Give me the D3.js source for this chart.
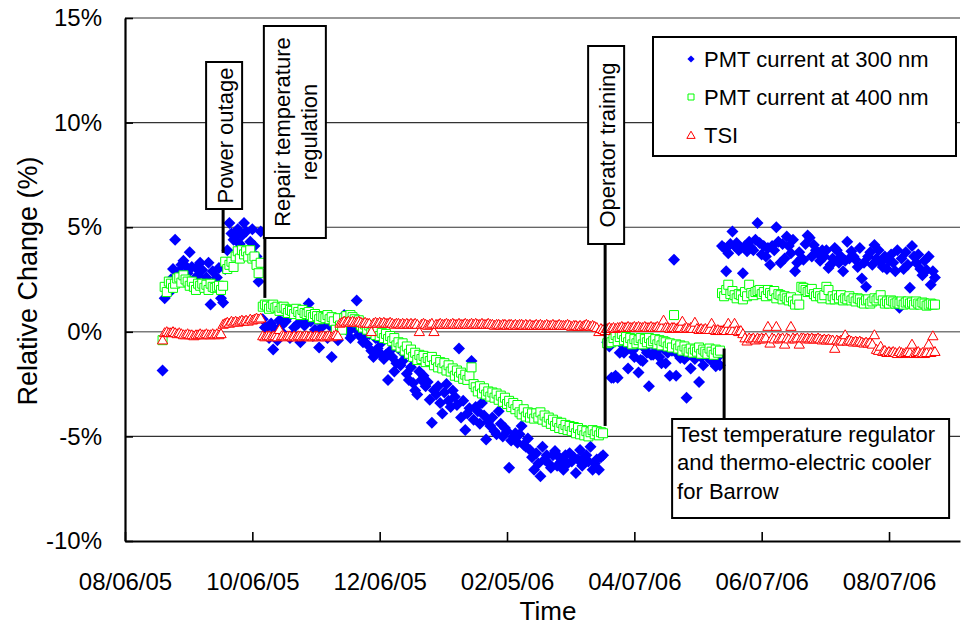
<!DOCTYPE html>
<html><head><meta charset="utf-8">
<script src="https://cdn.jsdelivr.net/npm/d3@7/dist/d3.min.js"></script>
<style>
body{margin:0;background:#fff}
svg{display:block}
text{font-family:"Liberation Sans",Arial,sans-serif;fill:#000}
</style>
</head><body>
<svg id="chart" width="961" height="629"></svg>
<script>
// ---------------- data ----------------
// one reading per day, starting on firstDay (null = no reading)
const firstDay = "08/24/05";

const pmt300 = [
 -1.85, 1.6, 2.2, 1.85, 2.5, 3.0, 4.4, 2.6, 2.9, 3.2,
 3.4, 3.15, 2.8, 3.8, 3.1, 2.5, 3.05, 2.7, 3.3, 2.95,
 2.2, 2.6, 3.3, 1.3, 2.9, 2.4, 2.6, 3.05, 1.6, 1.4,
 3.0, 3.9, 5.2, 4.7, 4.4, 4.55, 4.9, 4.2, 4.6, 5.2,
 4.8, 3.8, 4.3, 4.9, 4.1, 3.6, 2.4, 4.8,
 0.6, 0.2, 0.2, -0.3, 0.4, -0.85, 0.1, -0.4, 0.55, 0.3,
 -0.1, 0.5, 0.7, -0.3, -0.2, 0.2, 0.9, 0.4, -0.5, 0.6,
 0.3, 0.8, 1.35, 0.5, -0.2, 0.1, 0.6, -0.75, 0.2, 0.7,
 0.4, -0.3, 0.3, -1.2, 0.5, 0.1, -0.4, 0.6, 0.2, 0.8,
 0.5, 0.0, -0.3, 0.4, 0.2, 1.5, -0.15, 0.3, -0.5, -0.2,
 -0.6, -0.1, -0.9, -1.2, -0.3, -0.8, -1.0, -0.5, -1.3, -1.1,
 -2.3, -0.9, -1.2, -1.9, -1.5, -0.8, -1.6, -1.4, -1.1, -2.0,
 -2.3, -1.7, -2.45, -2.8, -3.0, -1.9, -2.3, -2.1, -2.6, -2.4,
 -3.25, -4.35, -2.8, -3.0, -2.6, -3.4, -3.9, -2.9, -2.5, -3.3,
 -3.6, -2.8, -3.1, -3.5, -0.8, -4.1, -3.3, -4.7, -3.9, -3.65,
 -1.4, -4.2, -3.6, -3.8, -4.4, -3.4, -4.0, -5.15, -4.3, -4.5,
 -4.1, -4.75, -4.9, -3.8, -4.4, -5.0, -4.6, -4.75, -6.5, -5.2,
 -5.0, -4.85, -5.3, -4.9, -4.5, -5.4, -5.5, -5.1, -5.65, -6.0,
 -6.6, -5.8, -6.3, -6.9, -5.5, -6.1, -5.9, -6.3, -6.5, -5.9,
 -5.7, -6.4, -6.0, -6.2, -6.6, -5.9, -6.3, -5.8, -6.2, -6.0,
 -6.75, -6.1, -5.65, -6.4, -6.0, -5.9, -6.2, -5.5, -6.6, -6.3,
 -6.1, -6.6, -6.0, -5.9,
 null,
 -0.5, -0.7, -2.2, -2.2, -2.1, -2.2, -1.0, -0.6, -1.0, -0.8,
 -1.75, -0.6, -0.9, -1.2, -0.7, -1.95, -1.35, -1.4, -0.8, -1.0,
 -2.6, -1.1, -1.1, -0.7, -0.9, -1.2, -1.5, -0.8, -1.5, -1.0,
 -2.1, -0.9, 3.45, -2.1, -1.1, -1.25, -0.9, -1.3, -3.15, -1.1,
 -1.75, -1.0, -1.3, -0.9, -2.4, -1.2, -1.6, -1.0, -1.2, -0.9,
 -1.4, -1.0, -1.65, -1.2, -1.6,
 4.1, 4.0, 2.9, 3.75, 4.2, 4.8, 4.1, 4.25, 3.9, 4.0,
 2.8, 4.1, 3.85, 4.3, 4.0, 3.9, 4.4, 5.2, 4.25, 3.7,
 4.1, 3.6, 4.0, 3.2, 4.1, 3.9, 5.0, 4.3, 3.3, 4.2,
 3.5, 4.55, 4.1, 3.75, 4.4, 2.9, 3.3, 3.8, 3.5, 3.45,
 4.2, 4.6, 4.5, 3.6, 4.15, 3.9, 3.75, 3.4, 3.9, 3.6,
 3.9, 3.05, 3.2, 3.5, 4.0, 3.9, 3.3, 3.6, 2.9, 3.4,
 4.3, 3.5, 3.85, 3.6, 3.45, 3.1, 4.0, 2.55, 3.3, 2.15,
 3.6, 3.8, 3.2, 4.15, 3.5, 3.9, 3.3, 3.1, 3.6, 3.0,
 3.4, 3.7, 3.3, 2.9, 3.9, 1.15, 3.5, 3.0, 3.8, 3.2,
 2.1, 4.1, 3.6, 3.3, 3.7, 3.0, 2.7, 3.4, 2.95, 3.6,
 2.25, 2.9, 2.6
];

const pmt400 = [
 -0.4, 2.15, 1.9, 2.4, 2.3, 2.1, 2.3, 2.55, 2.6, 2.35,
 2.7, 2.5, 2.4, 2.2, 2.4, 2.15, 2.0, 2.3, 2.2, 2.3,
 2.1, 2.25, 2.0, 2.3, 2.15, 2.1, 2.15, 2.2, 2.0, 2.2,
 3.35, 3.0, 3.2, 3.35, 3.1, 3.6, 3.85, 3.5, 3.9, 3.7,
 3.85, 3.6, 3.9, 3.5, 3.6, 3.2, 2.8, 3.3,
 1.2, 1.3, 1.25, 1.1, 1.2, 1.3, 1.15, 1.2, 1.0, 1.15,
 1.2, 1.1, 0.9, 1.05, 1.0, 0.85, 1.1, 0.95, 0.8, 1.05,
 0.9, 0.85, 0.95, 0.8, 0.7, 0.85, 0.75, 0.6, 0.75, 0.7,
 0.65, 0.8, 0.6, 0.7, 0.5, 0.1, 0.65, 0.3, 0.1, 0.65,
 0.75, 0.5, 0.8, 0.7, 0.6, 0.45, 0.55, 0.3, 0.2, 0.35,
 0.1, 0.3, -0.05, 0.2, -0.15, 0.05, -0.2, -0.05, -0.3, -0.1,
 -0.35, -0.2, -0.45, -0.3, -0.65, -0.5, -0.75, -0.55, -0.9, -0.7,
 -1.05, -0.85, -1.2, -1.0, -1.35, -1.1, -1.3, -1.15, -1.45, -1.25,
 -1.4, -1.2, -1.6, -1.35, -1.7, -1.45, -1.75, -1.5, -1.85, -1.6,
 -1.9, -1.75, -2.1, -1.85, -2.15, -1.95, -2.25, -2.05, -2.3, -2.1,
 -1.7, -2.5, -2.65, -2.85, -2.6, -2.95, -2.7, -3.0, -2.85, -3.1,
 -2.9, -3.15, -2.95, -3.25, -3.05, -3.35, -3.15, -3.45, -3.3, -3.6,
 -3.4, -3.7, -3.5, -3.85, -3.95, -3.7, -4.05, -3.85, -4.1, -3.9,
 -4.15, -3.9, -4.1, -3.85, -4.2, -4.0, -4.3, -4.1, -4.4, -4.2,
 -4.5, -4.3, -4.6, -4.35, -4.65, -4.45, -4.7, -4.5, -4.75, -4.55,
 -4.85, -4.6, -4.9, -4.7, -4.95, -4.75, -5.0, -4.8, -4.7, -4.9,
 -4.75, -4.95, -4.8, -4.85,
 null,
 -0.55, -0.2, -0.5, -0.3, -0.15, -0.45, -0.25, -0.1, -0.4, -0.25,
 -0.5, -0.3, -0.6, -0.35, -0.55, -0.4, -0.3, -0.6, -0.35, -0.5,
 -0.3, -0.55, -0.45, -0.35, -0.6, -0.4, -0.65, -0.45, -0.5, -0.7,
 -0.55, -0.75, 0.8, -0.6, -0.8, -0.65, -0.9, -0.7, -0.85, -0.95,
 -0.8, -1.0, -0.85, -0.95, -0.75, -1.05, -0.85, -0.95, -1.05, -0.8,
 -0.95, -1.1, -0.85, -1.0, -0.9,
 1.85, 1.7, 2.0, 2.25, 1.8, 1.95, 1.75, 1.6, 1.8, 1.75,
 1.55, 1.9, 1.7, 2.25, 1.85, 1.75, 1.9, 1.95, 2.0, 1.8,
 1.9, 1.7, 2.0, 1.85, 1.75, 1.95, 1.6, 1.8, 1.75, 1.55,
 1.7, 1.6, 1.5, 1.65, 1.45, 1.3, 1.55, 1.3, 2.15, 2.1,
 2.0, 1.9, 1.95, 2.05, 1.8, 1.7, 1.85, 1.7, 1.6, 1.75,
 2.15, 2.0, 1.55, 1.7, 1.55, 1.75, 1.6, 1.75, 1.5, 1.6,
 1.55, 1.7, 1.5, 1.6, 1.45, 1.6, 1.55, 1.4, 1.35, 1.5,
 1.55, 1.35, 1.45, 1.6, 1.5, 1.6, 1.75, 1.5, 1.35, 1.45,
 1.35, 1.5, 1.45, 1.35, 1.4, 1.35, 1.45, 1.3, 1.4, 1.45,
 1.35, 1.4, 1.3, 1.45, 1.35, 1.3, 1.4, 1.35, 1.25, 1.3,
 1.35, 1.3, 1.3
];

const tsi = [
 -0.4, -0.05, 0.0, -0.05, -0.05, 0.0, -0.05, -0.1, -0.05, -0.1,
 -0.15, -0.15, -0.1, -0.15, -0.15, -0.2, -0.15, -0.15, -0.1, -0.15,
 -0.15, -0.1, -0.15, -0.15, -0.1, -0.15, -0.1, -0.15, -0.1,
 0.35, 0.4, 0.45, 0.4, 0.5, 0.45, 0.5, 0.45, 0.5, 0.55,
 0.5, 0.55, 0.5, 0.6, 0.55, 0.6, 0.65, 0.6, 0.65,
 -0.2, -0.25, -0.2, -0.2, -0.25, -0.2, -0.2, -0.25, 0.1, -0.2,
 -0.2, -0.25, -0.2, -0.2, -0.25, -0.2, -0.25, -0.2, -0.2, -0.25,
 -0.2, -0.2, -0.25, -0.2, -0.25, -0.2, -0.2, -0.25, -0.2, -0.2,
 -0.25, -0.2, -0.2, -0.25, -0.2, -0.15, -0.2,
 0.4, 0.45, 0.5, 0.45, 0.5, 0.45, 0.5, 0.45, 0.45, 0.5,
 0.45, 0.4, 0.45, 0.4, 0.4, 0.0, 0.4, 0.45, 0.4, 0.45,
 0.4, 0.45, 0.4, 0.4, 0.45, 0.4, 0.35, 0.4, 0.4, 0.35,
 0.4, 0.35, 0.4, 0.35, 0.4, 0.35, 0.4, 0.35, 0.0, 0.35,
 0.4, 0.35, 0.3, 0.35, 0.4, 0.0, 0.35, 0.35, 0.4, 0.35,
 0.35, 0.4, 0.35, 0.35, 0.4, 0.35, 0.35, 0.4, 0.35, 0.35,
 0.4, 0.35, 0.35, 0.4, 0.35, 0.4, 0.35, 0.35, 0.4, 0.35,
 0.35, 0.4, 0.35, 0.35, 0.3, 0.35, 0.35, 0.3, 0.35, 0.35,
 0.3, 0.35, 0.35, 0.3, 0.35, 0.3, 0.35, 0.35, 0.3, 0.35,
 0.3, 0.35, 0.3, 0.3, 0.35, 0.3, 0.35, 0.3, 0.3, 0.35,
 0.3, 0.3, 0.35, 0.3, 0.3, 0.35, 0.3, 0.3, 0.3, 0.35,
 0.3, 0.25, 0.3, 0.3, 0.25, 0.3, 0.25, 0.3, 0.35, 0.3,
 0.25, 0.3, 0.25, 0.2, 0.0, 0.15, 0.1,
 0.05, 0.15, 0.2, 0.15, 0.2, 0.15, 0.2, 0.2, 0.25, 0.2,
 0.2, 0.25, 0.2, 0.2, 0.25, 0.2, 0.25, 0.2, 0.2, 0.25,
 0.2, 0.2, 0.25, 0.2, 0.2, 0.25, 0.2, 0.2, 0.55, 0.2,
 0.2, 0.15, 0.2, 0.2, 0.15, 0.2, 0.2, 0.5, 0.15, 0.2,
 0.15, 0.2, 0.15, 0.45, 0.15, 0.1, 0.15, 0.1, 0.15, 0.1,
 0.1, 0.4, 0.1, 0.05, 0.1, 0.05,
 0.05, 0.1, 0.05, 0.4, 0.1, 0.05, 0.4, 0.05, 0.0, 0.05,
 -0.1, -0.3, -0.45, -0.3, -0.35, -0.3, -0.4, -0.3, -0.35, -0.3,
 -0.35, -0.3, 0.25, -0.55, -0.3, -0.35, 0.25, -0.3, -0.35, -0.3,
 -0.6, -0.3, -0.35, 0.25, -0.3, -0.35, -0.3, -0.6, -0.3, -0.3,
 -0.35, -0.3, -0.35, -0.3, -0.35, -0.35, -0.3, -0.35, -0.4, -0.35,
 -0.4, -0.35, -0.4, -0.4, -0.8, -0.4, -0.45, -0.4, -0.45, -0.15,
 -0.45, -0.4, -0.45, -0.5, -0.45, -0.5, -0.45, -0.5, -0.55, -0.5,
 -0.55, -0.5, -0.6, -0.15, -0.85, -0.9, -0.7, -0.95, -0.9, -1.0,
 -0.95, -1.0, -0.95, -1.0, -1.05, -0.95, -1.0, -1.05, -1.0, -0.95,
 -1.0, -0.6, -1.05, -1.0, -0.95, -1.05, -1.0, -1.05, -1.0, -0.6,
 -1.0, -0.2, -0.95
];

const seriesNames = ["PMT current at 300 nm", "PMT current at 400 nm", "TSI"];
const xTickLabels = ["08/06/05", "10/06/05", "12/06/05", "02/05/06", "04/07/06", "06/07/06", "08/07/06"];
const xDomainLabels = ["08/06/05", "09/10/06"];
const yTicks = [-10, -5, 0, 5, 10, 15];
const yTitle = "Relative Change (%)";
const xTitle = "Time";

// event annotations: date + value where the leader line ends
const eventDates = ["09/22/05", "10/12/05", "03/24/06", "05/20/06"];
const eventValues = [3.77, 1.62, -4.5, -0.8];
const eventTexts = [
  ["Power outage"],
  ["Repair temperature", "regulation"],
  ["Operator training"],
  ["Test temperature regulator", "and thermo-electric cooler", "for Barrow"]
];

// ---------------- chart ----------------
const parse = d3.utcParse("%m/%d/%y");
const fmt = d3.utcFormat("%m/%d/%y");
const svg = d3.select("#chart");

const x = d3.scaleUtc().domain(xDomainLabels.map(parse)).range([125, 960]);
const y = d3.scaleLinear().domain([-10, 15]).range([541, 18]);

const start = parse(firstDay);
const toPoints = arr => arr.map((v, i) => ({date: d3.utcDay.offset(start, i), value: v}))
                          .filter(d => d.value !== null);

// gridlines
svg.append("g").selectAll("line").data(yTicks.filter(t => t > -10)).join("line")
  .attr("x1", 125).attr("x2", 960)
  .attr("y1", d => y(d)).attr("y2", d => y(d))
  .attr("stroke", d => d === 0 ? "#7a7a7a" : "#333").attr("stroke-width", d => d === 0 ? 1.6 : 1.1);

// axes
const yAxis = svg.append("g").attr("transform", "translate(125,0)")
  .call(d3.axisLeft(y).tickValues(yTicks).tickSize(-8).tickSizeOuter(0).tickPadding(23)
        .tickFormat(d => d + "%"));
const xAxis = svg.append("g").attr("transform", "translate(0,541)")
  .call(d3.axisBottom(x).tickValues(xTickLabels.map(parse)).tickSize(-9).tickSizeOuter(0)
        .tickPadding(32).tickFormat(fmt));
[yAxis, xAxis].forEach(g => {
  g.select(".domain").attr("stroke", "#000").attr("stroke-width", 2.2);
  g.selectAll(".tick line").attr("stroke", "#000").attr("stroke-width", 1.6);
  g.selectAll(".tick text").attr("font-size", 24).attr("fill", "#000")
    .style("font-family", '"Liberation Sans", Arial, sans-serif');
});

// axis titles
svg.append("text").attr("x", 548).attr("y", 620).attr("text-anchor", "middle")
  .attr("font-size", 26).text(xTitle);
svg.append("text").attr("transform", "translate(37,281) rotate(-90)").attr("text-anchor", "middle")
  .attr("font-size", 27).text(yTitle);

// markers
const diamond = d3.symbol().type(d3.symbolSquare).size(72);
const square = d3.symbol().type(d3.symbolSquare).size(81);
const triangle = d3.symbol().type(d3.symbolTriangle).size(46);

const plot = svg.append("g");
plot.append("g").selectAll("path").data(toPoints(pmt300)).join("path")
  .attr("d", diamond)
  .attr("transform", d => `translate(${x(d.date)},${y(d.value)}) rotate(45)`)
  .attr("fill", "#0000ff");
plot.append("g").selectAll("path").data(toPoints(pmt400)).join("path")
  .attr("d", square)
  .attr("transform", d => `translate(${x(d.date)},${y(d.value)})`)
  .attr("fill", "#fff").attr("stroke", "#00ff00").attr("stroke-width", 1);
plot.append("g").selectAll("path").data(toPoints(tsi)).join("path")
  .attr("d", triangle)
  .attr("transform", d => `translate(${x(d.date)},${y(d.value) + 0.8})`)
  .attr("fill", "#fff").attr("stroke", "#ff0000").attr("stroke-width", 1);

// annotations (box layout relative to the event date's x position)
const boxLayout = [
  {dx: -17, w: 36, top: 62, h: 147, rotated: true},
  {dx: -1, w: 62, top: 26, h: 212, rotated: true},
  {dx: -17, w: 36, top: 46, h: 198, rotated: true},
  {dx: -52, w: 277, top: 419, h: 99, rotated: false}
];
const ann = svg.append("g");
eventDates.forEach((ds, i) => {
  const ex = x(parse(ds)), ey = y(eventValues[i]);
  const b = boxLayout[i];
  const bx = ex + b.dx;
  const lineY1 = ey < b.top ? b.top : b.top + b.h;
  ann.append("line").attr("x1", ex).attr("x2", ex).attr("y1", lineY1).attr("y2", ey)
    .attr("stroke", "#000").attr("stroke-width", 3);
  ann.append("rect").attr("x", bx).attr("y", b.top).attr("width", b.w).attr("height", b.h)
    .attr("fill", "#fff").attr("stroke", "#000").attr("stroke-width", 2);
  const lines = eventTexts[i];
  if (b.rotated) {
    const cx = bx + b.w / 2 + 1, cy = b.top + b.h / 2;
    const t = ann.append("text").attr("transform", `translate(${cx},${cy}) rotate(-90)`)
      .attr("text-anchor", "middle").attr("font-size", 22);
    lines.forEach((s, j) => {
      t.append("tspan").attr("x", 0).attr("y", (j - (lines.length - 1) / 2) * 27)
        .attr("dominant-baseline", "central").text(s);
    });
  } else {
    lines.forEach((s, j) => {
      ann.append("text").attr("x", bx + 5).attr("y", b.top + 23 + j * 28.3)
        .attr("font-size", 22).text(s);
    });
  }
});

// legend
const legend = svg.append("g");
legend.append("rect").attr("x", 653).attr("y", 37).attr("width", 303).attr("height", 119)
  .attr("fill", "#fff").attr("stroke", "#000").attr("stroke-width", 2);
const legendSymbols = [
  {sym: d3.symbol().type(d3.symbolSquare).size(26), rot: 45, fill: "#0000ff", stroke: "none"},
  {sym: d3.symbol().type(d3.symbolSquare).size(36), rot: 0, fill: "#fff", stroke: "#00ff00"},
  {sym: d3.symbol().type(d3.symbolTriangle).size(30), rot: 0, fill: "#fff", stroke: "#ff0000"}
];
seriesNames.forEach((name, i) => {
  const ry = 59 + i * 38;
  const s = legendSymbols[i];
  legend.append("path").attr("d", s.sym)
    .attr("transform", `translate(691,${ry + (i === 2 ? 1 : 0)}) rotate(${s.rot})`)
    .attr("fill", s.fill).attr("stroke", s.stroke).attr("stroke-width", 1);
  legend.append("text").attr("x", 704).attr("y", ry).attr("dominant-baseline", "central")
    .attr("font-size", 22).text(name);
});
</script>
</body></html>
